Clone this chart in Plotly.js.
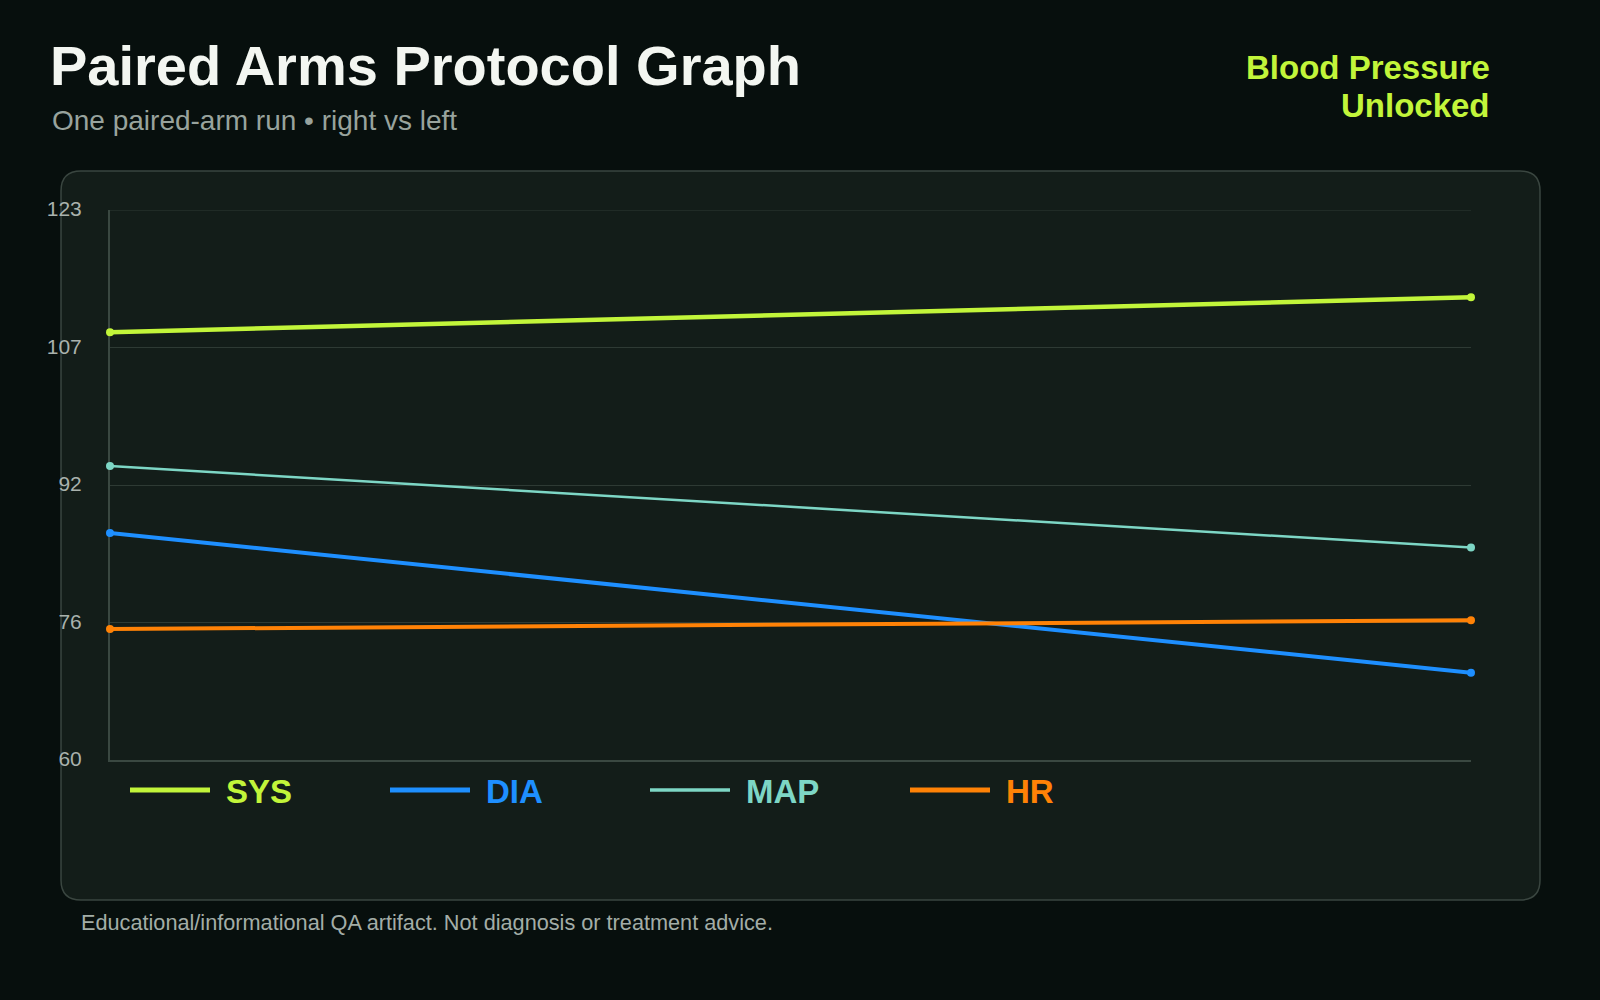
<!DOCTYPE html>
<html>
<head>
<meta charset="utf-8">
<script src="https://cdn.plot.ly/plotly-3.0.1.min.js"></script>
<style>
  html, body { margin: 0; padding: 0; background: #070f0d; }
  #chart { width: 1600px; height: 1000px; }
</style>
</head>
<body>
<div id="chart"></div>
<script>
// Paired-arm run: one reading per arm
const arms = ['Right', 'Left'];
const seriesNames = ['SYS', 'DIA', 'MAP', 'HR'];
const sysValues = [109, 113];
const diaValues = [86, 70];
const mapValues = [93.67, 84.33];
const hrValues = [75, 76];
const yTickValues = [60, 75.75, 91.5, 107.25, 123];
const yTickLabels = ['60', '76', '92', '107', '123'];

// Styling
const FONT = '"Liberation Sans", Arial, Helvetica, sans-serif';
const seriesColors = ['#c2f53a', '#1e8fff', '#7dd6c5', '#ff8206'];
const lineWidths = [4.5, 4, 2.5, 4];
const keyWidths = [5, 5, 3.5, 5];
const seriesValues = [sysValues, diaValues, mapValues, hrValues];
const GRID = '#2e3a34';

// Canvas geometry (pixels) and helpers that map pixels to paper coordinates
const W = 1600, H = 1000;
const M = { l: 110, r: 129, t: 210, b: 240 };
const PW = W - M.l - M.r, PH = H - M.t - M.b;
const px = x => (x - M.l) / PW;
const py = y => (H - M.b - y) / PH;

function roundedPanel(x0, y0, x1, y1, r) {
  const p = (x, y) => px(x) + ',' + py(y);
  return 'M' + p(x0 + r, y0) +
    ' L' + p(x1 - r, y0) + ' Q' + p(x1, y0) + ' ' + p(x1, y0 + r) +
    ' L' + p(x1, y1 - r) + ' Q' + p(x1, y1) + ' ' + p(x1 - r, y1) +
    ' L' + p(x0 + r, y1) + ' Q' + p(x0, y1) + ' ' + p(x0, y1 - r) +
    ' L' + p(x0, y0 + r) + ' Q' + p(x0, y0) + ' ' + p(x0 + r, y0) + ' Z';
}

const traces = seriesNames.map((name, i) => ({
  type: 'scatter',
  mode: 'lines+markers',
  name: name,
  x: arms,
  y: seriesValues[i],
  line: { color: seriesColors[i], width: lineWidths[i] },
  marker: { color: seriesColors[i], size: 8 },
  cliponaxis: false,
  showlegend: false,
  hoverinfo: 'skip'
}));

const topTick = yTickValues[yTickValues.length - 1];
const shapes = [
  {
    type: 'path', xref: 'paper', yref: 'paper', layer: 'below',
    path: roundedPanel(61, 171, 1540, 900, 20),
    fillcolor: '#131d19',
    line: { color: '#3a4640', width: 1.5 }
  },
  // gridline along the top of the value range
  {
    type: 'line', xref: 'paper', yref: 'y', layer: 'below',
    x0: 0, x1: 1, y0: topTick, y1: topTick,
    line: { color: GRID, width: 1 }
  }
];

const annotations = [
  {
    text: 'One paired-arm run • right vs left',
    x: px(50), y: py(121), xanchor: 'left', yanchor: 'middle',
    font: { family: FONT, size: 28, color: '#98a39d' }
  },
  {
    text: '<b>Blood Pressure</b>',
    x: px(1492), y: py(67), xanchor: 'right', yanchor: 'middle',
    font: { family: FONT, size: 33, color: seriesColors[0] }
  },
  {
    text: '<b>Unlocked</b>',
    x: px(1492), y: py(105), xanchor: 'right', yanchor: 'middle',
    font: { family: FONT, size: 33, color: seriesColors[0] }
  },
  {
    text: 'Educational/informational QA artifact. Not diagnosis or treatment advice.',
    x: px(79), y: py(922), xanchor: 'left', yanchor: 'middle',
    font: { family: FONT, size: 21.7, color: '#a3ada7' }
  }
];

// Series key beneath the plot area
seriesNames.forEach((name, i) => {
  const x0 = 130 + i * 260;
  shapes.push({
    type: 'line', xref: 'paper', yref: 'paper',
    x0: px(x0), x1: px(x0 + 80), y0: py(790), y1: py(790),
    line: { color: seriesColors[i], width: keyWidths[i] }
  });
  annotations.push({
    text: '<b>' + name + '</b>',
    x: px(x0 + 94), y: py(791), xanchor: 'left', yanchor: 'middle',
    font: { family: FONT, size: 33, color: seriesColors[i] }
  });
});
annotations.forEach(a => { a.xref = 'paper'; a.yref = 'paper'; a.showarrow = false; });

const layout = {
  width: W, height: H,
  margin: M,
  paper_bgcolor: '#070f0d',
  plot_bgcolor: 'rgba(0,0,0,0)',
  font: { family: FONT, color: '#a9b2ad' },
  title: {
    text: '<b>Paired Arms Protocol Graph</b>',
    xref: 'container', yref: 'container',
    x: 50 / W, xanchor: 'left',
    y: 1 - 65 / H, yanchor: 'middle',
    font: { family: FONT, size: 56, color: '#f3f6f1' }
  },
  xaxis: {
    type: 'category',
    range: [0, 1],
    showgrid: false, zeroline: false,
    showline: true, linecolor: '#3a4841', linewidth: 2,
    showticklabels: false, ticks: '',
    layer: 'below traces'
  },
  yaxis: {
    range: [60, 123],
    tickmode: 'array', tickvals: yTickValues, ticktext: yTickLabels,
    showgrid: true, gridcolor: GRID, gridwidth: 1,
    zeroline: false,
    showline: true, linecolor: '#3a4841', linewidth: 2,
    ticks: '', ticklabelstandoff: 22, ticklabelshift: -1,
    tickfont: { family: FONT, size: 21, color: '#a9b2ad' },
    layer: 'below traces'
  },
  shapes: shapes,
  annotations: annotations,
  showlegend: false
};

Plotly.newPlot('chart', traces, layout, { displayModeBar: false, staticPlot: true });
</script>
</body>
</html>
